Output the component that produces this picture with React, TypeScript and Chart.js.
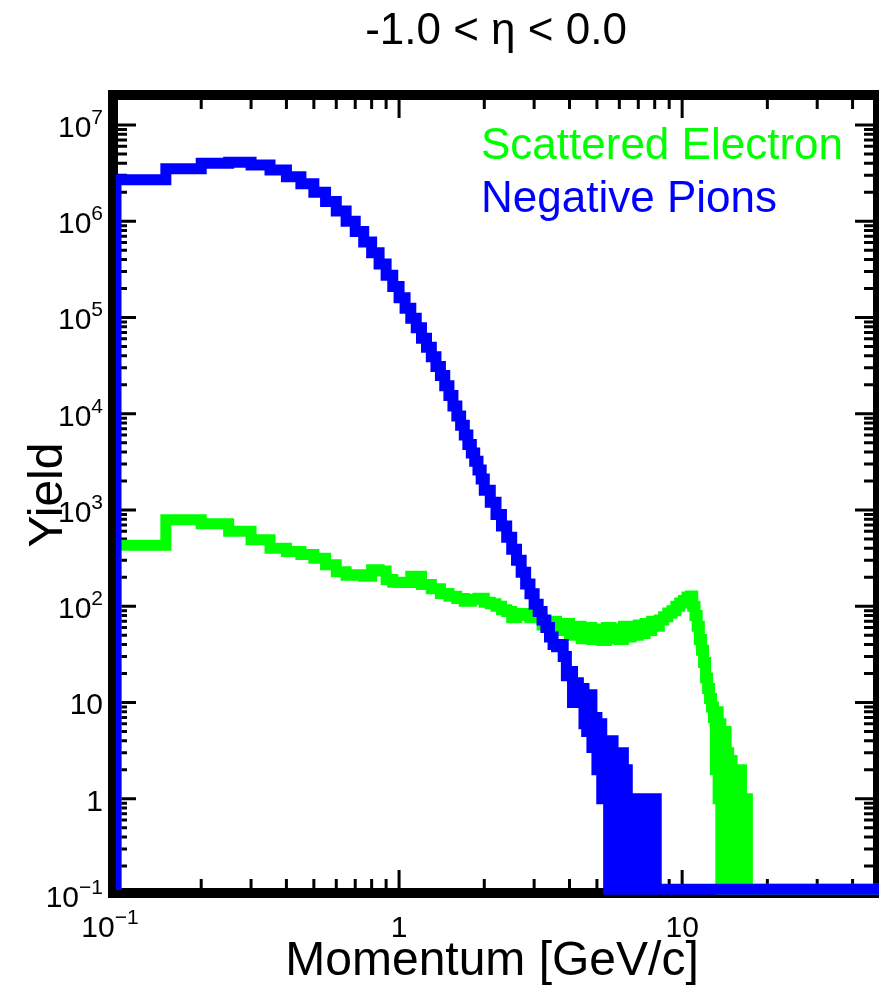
import React, { useEffect, useRef } from "react";
import { Chart, registerables } from "chart.js";

Chart.register(...registerables);

const FONT = '"Liberation Sans", Arial, Helvetica, sans-serif';

// ---- text ----
const titleText = "-1.0 < η < 0.0";
const xAxisTitle = "Momentum [GeV/c]";
const yAxisTitle = "Yield";
const electronLabel = "Scattered Electron";
const pionLabel = "Negative Pions";

// ---- axes ----
const xMin = 0.1;
const xMax = 50;
const yMin = 0.1;
const yMax = 2e7;
// empty bins are drawn by ROOT just above the bottom of the log axis
const emptyBinLevel = 0.115;

const xMajorTicks = [1, 10];
const xMinorTicks = [0.2, 0.3, 0.4, 0.5, 0.6, 0.7, 0.8, 0.9, 2, 3, 4, 5, 6, 7, 8, 9, 20, 30, 40];
const yMajorTicks = [1, 10, 1e2, 1e3, 1e4, 1e5, 1e6, 1e7];
const yDecades = [0.1, 1, 10, 1e2, 1e3, 1e4, 1e5, 1e6];

const yLabelValues = [1e7, 1e6, 1e5, 1e4, 1e3, 1e2, 10, 1, 0.1];
const yLabelBases = ["10", "10", "10", "10", "10", "10", "10", "1", "10"];
const yLabelExps = ["7", "6", "5", "4", "3", "2", "", "", "\u22121"];
const xLabelValues = [0.1, 1, 10];
const xLabelBases = ["10", "1", "10"];
const xLabelExps = ["\u22121", "", ""];

// ---- Negative pions: bin low edges (last entry = upper edge of last bin) ----
const pionEdges = [
  0.10, 0.15, 0.20, 0.25, 0.30, 0.35, 0.40, 0.45, 0.50, 0.55, 0.60, 0.65, 0.70, 0.75, 0.80, 0.85, 0.90, 0.95,
  1.00, 1.05, 1.10, 1.15, 1.20, 1.25, 1.30, 1.35, 1.40, 1.45, 1.50, 1.55, 1.60, 1.65, 1.70, 1.75, 1.80, 1.85, 1.90, 1.95,
  2.0, 2.1, 2.2, 2.3, 2.4, 2.5, 2.6, 2.7, 2.8, 2.9, 3.0, 3.1, 3.2, 3.3, 3.4, 3.5, 3.6, 3.7, 3.8, 3.9,
  4.0, 4.1, 4.2, 4.3, 4.4, 4.5, 4.6, 4.7, 4.8, 4.9, 5.0, 5.1, 5.2, 5.3, 5.4, 5.5, 5.6, 5.7, 5.8, 5.9,
  6.0, 6.1, 6.2, 6.3, 6.4, 6.5, 6.6,
  6.8, 6.9, 7.1, 7.2, 7.4, 7.5, 7.7, 7.8, 8.0, 8.1,
  50,
];
const pionYield = [
  2.7e6, 3.5e6, 4.0e6, 4.1e6, 3.85e6, 3.4e6, 2.9e6, 2.45e6, 2.0e6, 1.6e6, 1.28e6, 1.0e6, 7.8e5, 6.1e5, 4.7e5, 3.6e5, 2.75e5, 2.1e5,
  1.6e5, 1.25e5, 9.8e4, 7.8e4, 6.1e4, 4.9e4, 3.9e4, 3.1e4, 2.5e4, 1.95e4, 1.55e4, 1.2e4, 9.5e3, 7.6e3, 6.0e3, 4.8e3, 3.9e3, 3.2e3, 2.6e3, 2.1e3,
  1600, 1200, 900, 680, 520, 390, 300, 225, 170, 135, 105, 88, 72, 60, 48, 40, 38, 40, 30, 19,
  21, 10, 16, 10, 14, 6, 5, 12, 3.4, 7, 2, 6, 1, 4, 1, 0, 4, 0, 3, 1,
  0, 3, 0, 2, 0, 1, 0,
  1, 0, 1, 0, 1, 0, 1, 0, 1, 0,
];

// ---- Scattered electrons ----
const electronEdges = [
  0.10, 0.15, 0.20, 0.25, 0.30, 0.35, 0.40, 0.45, 0.50, 0.55, 0.60, 0.65, 0.70, 0.75, 0.80, 0.85, 0.90, 0.95,
  1.0, 1.1, 1.2, 1.3, 1.4, 1.5, 1.6, 1.7, 1.8, 1.9, 2.0, 2.1, 2.2, 2.3, 2.4, 2.5, 2.6, 2.7, 2.8, 2.9,
  3.0, 3.2, 3.4, 3.6, 3.8, 4.0, 4.2, 4.4, 4.6, 4.8, 5.0, 5.2, 5.4, 5.6, 5.8, 6.0, 6.2, 6.4, 6.6, 6.8, 7.0, 7.2, 7.4, 7.6, 7.8, 8.0,
  8.3, 8.6, 8.9, 9.2, 9.5, 9.8, 10.1, 10.4, 10.7,
  10.9, 11.1, 11.3, 11.5, 11.7, 11.9, 12.1, 12.3, 12.5, 12.7, 12.9,
  13.1, 13.2, 13.4, 13.5, 13.7, 13.8, 14.0, 14.1, 14.3, 14.4, 14.6, 14.8, 15.0, 15.2, 15.4, 15.6, 15.8, 16.0, 16.2, 16.4, 16.6, 16.8, 17.0,
  50,
];
const electronYield = [
  430, 790, 720, 600, 490, 400, 370, 345, 315, 270, 228, 210, 212, 205, 240, 232, 190, 178,
  176, 205, 168, 152, 136, 127, 120, 113, 118, 121, 110, 106, 100, 92, 88, 76, 80, 84, 80, 76,
  76, 64, 70, 56, 66, 50, 62, 46, 60, 45, 58, 44, 60, 46, 58, 45, 62, 48, 60, 50, 64, 52, 66, 56, 70, 62,
  72, 78, 85, 90, 100, 108, 115, 125, 128,
  100, 80, 62, 45, 35, 26, 18, 14, 11, 9, 7,
  2, 8, 1, 6, 0, 5, 1, 5, 0, 3, 1, 2.5, 0, 2, 0, 2, 0, 2, 0, 1, 0, 1, 0,
];

const PION_COLOR = "#0000ff";
const ELECTRON_COLOR = "#00ff00";

const CANVAS_W = 884;
const CANVAS_H = 995;

function histPoints(edges: number[], values: number[]) {
  const v = (y: number) => (y > 0 ? y : emptyBinLevel);
  const pts: { x: number; y: number }[] = [{ x: edges[0], y: emptyBinLevel }];
  for (let i = 0; i < values.length; i++) pts.push({ x: edges[i], y: v(values[i]) });
  pts.push({ x: edges[edges.length - 1], y: v(values[values.length - 1]) });
  return pts;
}

function drawPower(
  ctx: CanvasRenderingContext2D,
  base: string,
  exp: string,
  xRef: number,
  baseY: number,
  expY: number,
  align: "right" | "center"
) {
  ctx.font = `30px ${FONT}`;
  const bw = ctx.measureText(base).width;
  ctx.font = `21px ${FONT}`;
  const ew = exp ? ctx.measureText(exp).width : 0;
  const total = bw + ew;
  const x0 = align === "right" ? xRef - total : xRef - total / 2;
  ctx.textAlign = "left";
  ctx.textBaseline = "alphabetic";
  ctx.font = `30px ${FONT}`;
  ctx.fillText(base, x0, baseY);
  if (exp) {
    ctx.font = `21px ${FONT}`;
    ctx.fillText(exp, x0 + bw, expY);
  }
}

const rootStylePlugin = {
  id: "rootStyle",
  beforeDatasetsDraw(chart: any) {
    const { ctx } = chart;
    const xs = chart.scales.x;
    const ys = chart.scales.y;
    const L = xs.getPixelForValue(xMin) - 3;
    const R = xs.getPixelForValue(xMax) - 2;
    const T = ys.getPixelForValue(yMax) - 1;
    const B = ys.getPixelForValue(yMin) - 2;
    const fw = 10;
    ctx.save();
    ctx.strokeStyle = "#000";
    ctx.lineJoin = "miter";
    ctx.lineWidth = fw;
    ctx.strokeRect(L, T, R - L, B - T);

    const iL = L + fw / 2, iR = R - fw / 2, iT = T + fw / 2, iB = B - fw / 2;
    const major = 18, minor = 9;
    ctx.lineWidth = 3;
    ctx.lineCap = "butt";
    ctx.beginPath();
    const xt = (v: number, len: number) => {
      const px = xs.getPixelForValue(v);
      ctx.moveTo(px, iB);
      ctx.lineTo(px, iB - len);
      ctx.moveTo(px, iT);
      ctx.lineTo(px, iT + len);
    };
    xMajorTicks.forEach((v) => xt(v, major));
    xMinorTicks.forEach((v) => xt(v, minor));
    const yt = (v: number, len: number) => {
      const py = ys.getPixelForValue(v);
      ctx.moveTo(iL, py);
      ctx.lineTo(iL + len, py);
      ctx.moveTo(iR, py);
      ctx.lineTo(iR - len, py);
    };
    yMajorTicks.forEach((v) => yt(v, major));
    yDecades.forEach((d) => {
      for (let m = 2; m <= 9; m++) {
        const v = m * d;
        if (v < yMax) yt(v, minor);
      }
    });
    ctx.stroke();
    ctx.restore();
  },
  afterDraw(chart: any) {
    const { ctx } = chart;
    const xs = chart.scales.x;
    const ys = chart.scales.y;
    ctx.save();
    ctx.fillStyle = "#000";

    // tick labels
    yLabelValues.forEach((v, i) => {
      const py = ys.getPixelForValue(v);
      drawPower(ctx, yLabelBases[i], yLabelExps[i], 103, py + 12, py - 1, "right");
    });
    xLabelValues.forEach((v, i) => {
      const px = xs.getPixelForValue(v);
      const off = xLabelExps[i] ? -6 : 0;
      drawPower(ctx, xLabelBases[i], xLabelExps[i], px + off, 937, 924, "center");
    });

    // title
    ctx.font = `44px ${FONT}`;
    ctx.textAlign = "center";
    ctx.textBaseline = "alphabetic";
    ctx.fillText(titleText, 496, 44);

    // axis titles
    ctx.font = `48px ${FONT}`;
    ctx.fillText(xAxisTitle, 492, 975);
    ctx.save();
    ctx.translate(62, 495);
    ctx.rotate(-Math.PI / 2);
    ctx.fillText(yAxisTitle, 0, 0);
    ctx.restore();

    // legend
    ctx.font = `44px ${FONT}`;
    ctx.textAlign = "left";
    ctx.fillStyle = ELECTRON_COLOR;
    ctx.fillText(electronLabel, 481, 159);
    ctx.fillStyle = PION_COLOR;
    ctx.fillText(pionLabel, 481, 212);
    ctx.restore();
  },
};

export default function App() {
  const ref = useRef<HTMLCanvasElement>(null);
  useEffect(() => {
    document.body.style.margin = "0";
    const canvas = ref.current!;
    const chart = new Chart(canvas, {
      type: "line",
      data: {
        datasets: [
          {
            label: pionLabel,
            data: histPoints(pionEdges, pionYield),
            borderColor: PION_COLOR,
            backgroundColor: PION_COLOR,
            borderWidth: 11,
            pointRadius: 0,
            stepped: true,
            fill: false,
            borderJoinStyle: "miter",
            borderCapStyle: "butt",
            order: 0,
          },
          {
            label: electronLabel,
            data: histPoints(electronEdges, electronYield),
            borderColor: ELECTRON_COLOR,
            backgroundColor: ELECTRON_COLOR,
            borderWidth: 11,
            pointRadius: 0,
            stepped: true,
            fill: false,
            borderJoinStyle: "miter",
            borderCapStyle: "butt",
            order: 1,
          },
        ],
      },
      options: {
        responsive: false,
        animation: false,
        devicePixelRatio: 1,
        events: [],
        layout: { padding: { left: 116, right: CANVAS_W - 880, top: 96, bottom: CANVAS_H - 895 } },
        plugins: {
          legend: { display: false },
          tooltip: { enabled: false },
          title: { display: false },
        },
        scales: {
          x: { type: "logarithmic", min: xMin, max: xMax, display: false },
          y: { type: "logarithmic", min: yMin, max: yMax, display: false },
        },
      },
      plugins: [rootStylePlugin],
    } as any);
    return () => chart.destroy();
  }, []);
  return (
    <div style={{ width: 879, height: 995, overflow: "hidden", position: "relative", background: "#fff" }}>
      <canvas ref={ref} width={CANVAS_W} height={CANVAS_H} style={{ display: "block", width: CANVAS_W, height: CANVAS_H }} />
    </div>
  );
}
